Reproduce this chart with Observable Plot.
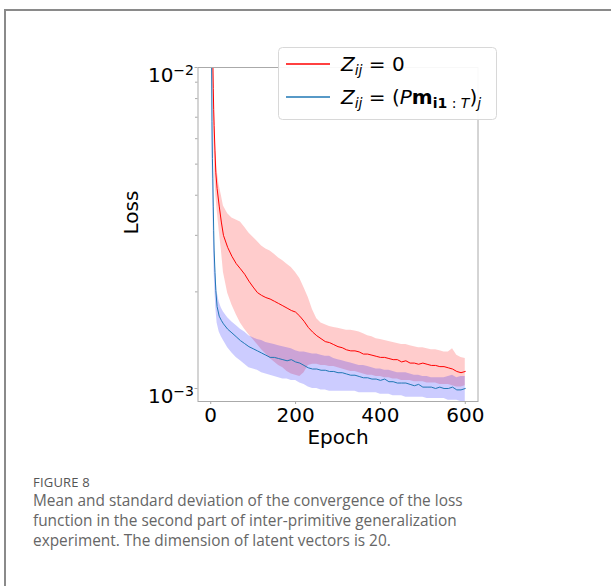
<!DOCTYPE html>
<html>
<head>
<meta charset="utf-8">
<script src="https://cdn.jsdelivr.net/npm/d3@7"></script>
<script src="https://cdn.jsdelivr.net/npm/@observablehq/plot@0.6"></script>
<style>
  html, body { margin: 0; padding: 0; background: #fff; }
  #page { position: relative; width: 611px; height: 586px; overflow: hidden; background: #fff; }
  #card { position: absolute; left: 4px; top: 9px; width: 700px; height: 700px; border-left: 2px solid #8a8a8a; border-top: 2px solid #8a8a8a; }
  #chart { position: absolute; left: 0; top: 0; }
  #fig { position: absolute; left: 33px; top: 474px; font-family: "Open Sans", sans-serif; font-size: 13px; letter-spacing: 0.2px; line-height: 16px; color: #555; }
  #cap { position: absolute; left: 33px; top: 491px; width: 452px; font-family: "Open Sans", sans-serif; font-size: 15.4px; line-height: 20px; color: #666; }
</style>
</head>
<body>
<div id="page">
  <div id="card"></div>
  <div id="chart"></div>
  <div id="fig">FIGURE 8</div>
  <div id="cap">Mean and standard deviation of the convergence of the loss function in the second part of inter-primitive generalization experiment. The dimension of latent vectors is 20.</div>
</div>
<script>
const epochs = [0,2,3,4,5,6,7,8,10,12,15,20,25,30,40,50,60,70,80,90,100,110,120,130,140,150,160,170,180,190,200,210,220,230,240,250,260,270,280,290,300,310,320,330,340,350,360,370,380,390,400,410,420,430,440,450,460,470,480,490,500,510,520,530,540,550,560,570,580,590,600];

const redMean = [0.08,0.04,0.025,0.015,0.0105,0.0086,0.0074,0.0066,0.0055,0.0047,0.0042,0.0037,0.0033,0.0030,0.00275,0.00258,0.00245,0.00236,0.00227,0.00216,0.00207,0.00199,0.00195,0.00192,0.00190,0.00187,0.00184,0.00181,0.00178,0.00175,0.00173,0.00168,0.00162,0.00155,0.00150,0.00146,0.00143,0.00140,0.00139,0.00137,0.00135,0.00134,0.00132,0.00131,0.00131,0.00130,0.00128,0.00128,0.00127,0.00126,0.00125,0.00125,0.00124,0.00123,0.00123,0.00121,0.00122,0.00120,0.00120,0.00119,0.00120,0.00119,0.00118,0.00118,0.00117,0.00117,0.00116,0.00115,0.00113,0.00112,0.00113];

const redUpper = [0.1,0.05,0.03,0.018,0.013,0.0105,0.0090,0.0080,0.0066,0.0055,0.0048,0.0043,0.0040,0.0037,0.0035,0.0034,0.00335,0.00330,0.00318,0.00305,0.00296,0.00287,0.00278,0.00272,0.00268,0.00262,0.00255,0.00250,0.00244,0.00238,0.00230,0.00220,0.00206,0.00192,0.00176,0.00165,0.00160,0.00158,0.00156,0.00155,0.00154,0.00153,0.00152,0.00152,0.00151,0.00150,0.00148,0.00146,0.00145,0.00143,0.00142,0.00141,0.00140,0.00139,0.00138,0.00137,0.00137,0.00136,0.00135,0.00134,0.00134,0.00133,0.00132,0.00132,0.00131,0.00130,0.00130,0.00133,0.00127,0.00125,0.00124];

const redLower = [0.06,0.03,0.02,0.012,0.0085,0.0070,0.0060,0.0054,0.0045,0.0040,0.0036,0.0031,0.0027,0.0023,0.00198,0.00182,0.00170,0.00160,0.00153,0.00147,0.00142,0.00137,0.00132,0.00128,0.00124,0.00121,0.00118,0.00116,0.00113,0.00111,0.00110,0.00109,0.00112,0.00118,0.00119,0.00119,0.00118,0.00118,0.00117,0.00117,0.00116,0.00115,0.00114,0.00113,0.00113,0.00112,0.00111,0.00110,0.00110,0.00109,0.00109,0.00108,0.00108,0.00107,0.00107,0.00106,0.00106,0.00106,0.00105,0.00105,0.00105,0.00104,0.00104,0.00104,0.00103,0.00103,0.00103,0.00102,0.00101,0.00101,0.00102];

const blueMean = [0.05,0.0105,0.0068,0.0052,0.0045,0.0037,0.0031,0.0027,0.0023,0.00202,0.00180,0.00168,0.00163,0.00159,0.00153,0.00149,0.00145,0.00141,0.00138,0.00135,0.00133,0.00131,0.00129,0.00127,0.00125,0.00125,0.00124,0.00123,0.00122,0.00123,0.00121,0.00120,0.00118,0.00116,0.00115,0.00115,0.00114,0.00114,0.00113,0.00113,0.00112,0.00112,0.00111,0.00110,0.00110,0.00109,0.00108,0.00108,0.00107,0.00107,0.00106,0.00107,0.00105,0.00105,0.00104,0.00104,0.00104,0.00103,0.00102,0.00103,0.00101,0.00101,0.00101,0.00100,0.00101,0.00100,0.00100,0.00101,0.00099,0.00099,0.00100];

const blueUpper = [0.06,0.013,0.0085,0.0062,0.0053,0.0043,0.0036,0.0031,0.0026,0.00228,0.00200,0.00186,0.00178,0.00173,0.00166,0.00161,0.00157,0.00153,0.00150,0.00146,0.00144,0.00142,0.00141,0.00139,0.00138,0.00137,0.00136,0.00135,0.00134,0.00133,0.00131,0.00130,0.00130,0.00129,0.00128,0.00128,0.00127,0.00126,0.00126,0.00124,0.00123,0.00122,0.00121,0.00120,0.00119,0.00118,0.00118,0.00117,0.00116,0.00115,0.00115,0.00114,0.00114,0.00113,0.00112,0.00112,0.00112,0.00111,0.00110,0.00110,0.00109,0.00109,0.00108,0.00108,0.00108,0.00108,0.00109,0.00110,0.00108,0.00109,0.00109];

const blueLower = [0.04,0.008,0.0055,0.0043,0.0038,0.0031,0.0026,0.0023,0.0020,0.00178,0.00160,0.00150,0.00145,0.00141,0.00134,0.00129,0.00125,0.00122,0.00119,0.00116,0.00115,0.00114,0.00112,0.00111,0.00110,0.00109,0.00108,0.00107,0.00107,0.00106,0.00106,0.00104,0.00103,0.00101,0.00100,0.00100,0.00099,0.00099,0.00098,0.00098,0.00098,0.00098,0.00098,0.00098,0.00098,0.00097,0.00097,0.00097,0.00097,0.00097,0.00096,0.00096,0.00096,0.00095,0.00095,0.00095,0.00094,0.00094,0.00094,0.00094,0.00094,0.00093,0.00093,0.00093,0.00093,0.00093,0.00092,0.00092,0.00092,0.00091,0.00091];

const xTicks = [0, 200, 400, 600];
const xTickLabels = ["0", "200", "400", "600"];
const yMajor = [0.001, 0.01];
const yMajorLabels = ["10^-3", "10^-2"];
const yMinor = [0.002,0.003,0.004,0.005,0.006,0.007,0.008,0.009];
const seriesColors = ["red", "#1f77b4"];
const bandColors = ["red", "blue"];

const data = epochs.map((e, i) => ({
  epoch: e,
  rm: redMean[i], ru: redUpper[i], rl: redLower[i],
  bm: blueMean[i], bu: blueUpper[i], bl: blueLower[i]
}));

const chart = Plot.plot({
  width: 611,
  height: 460,
  marginLeft: 197.5,
  marginRight: 133.5,
  marginTop: 67,
  marginBottom: 59,
  style: { fontFamily: "DejaVu Sans", fontSize: "20px", color: "black", background: "transparent", overflow: "visible" },
  x: { domain: [-30, 630] },
  y: { type: "log", domain: [0.000911, 0.01] },
  marks: [
    Plot.areaY(data, { x: "epoch", y1: "rl", y2: "ru", fill: bandColors[0], fillOpacity: 0.2, clip: true }),
    Plot.lineY(data, { x: "epoch", y: "rm", stroke: seriesColors[0], strokeWidth: 1, clip: true }),
    Plot.areaY(data, { x: "epoch", y1: "bl", y2: "bu", fill: bandColors[1], fillOpacity: 0.2, clip: true }),
    Plot.lineY(data, { x: "epoch", y: "bm", stroke: seriesColors[1], strokeWidth: 1, clip: true }),
    Plot.frame({ stroke: "#aaa", strokeWidth: 1 }),
    Plot.axisX({ ticks: xTicks, tickFormat: d => xTickLabels[xTicks.indexOf(d)], tickSize: 3, tickPadding: 3, stroke: "#aaa", fontSize: 20, label: null }),
    Plot.axisY({ ticks: yMinor, tickSize: 2.5, tickFormat: () => "", stroke: "#aaa", label: null }),
    Plot.axisY({ ticks: yMajor, tickSize: 3, tickPadding: 1, tickFormat: d => yMajorLabels[yMajor.indexOf(d)], stroke: "#aaa", fontSize: 20, label: null }),
    Plot.text(["Epoch"], { frameAnchor: "bottom", lineAnchor: "middle", dy: 36, text: d => d, fontSize: 20 }),
    Plot.text(["Loss"], { frameAnchor: "left", lineAnchor: "middle", rotate: -90, dx: -66.5, text: d => d, fontSize: 20 })
  ]
});

document.getElementById("chart").appendChild(chart);

// superscript exponents on log tick labels
const svg = d3.select(chart);
svg.selectAll("text").each(function() {
  const t = this.textContent;
  const m = /^10\^(-\d)$/.exec(t);
  if (m) {
    const el = d3.select(this);
    el.text("10");
    el.attr("dy", "0.42em");
    el.append("tspan").attr("dy", "-0.5em").attr("font-size", "14px").text(m[1].replace("-", "\u2212"));
  }
});

// legend (matplotlib style, upper right)
const lg = svg.append("g").attr("font-family", "DejaVu Sans").attr("font-size", 20).attr("fill", "black").attr("text-anchor", "start");
lg.append("rect").attr("x", 278.5).attr("y", 47.5).attr("width", 218).attr("height", 72).attr("rx", 4)
  .attr("fill", "white").attr("fill-opacity", 0.92).attr("stroke", "#d8d8d8");
const rows = [{ y: 64, c: seriesColors[0] }, { y: 97, c: seriesColors[1] }];
rows.forEach(r => lg.append("line").attr("x1", 286).attr("x2", 330).attr("y1", r.y).attr("y2", r.y).attr("stroke", r.c).attr("stroke-width", 1.3));

function mathRow(y, parts) {
  const t = lg.append("text").attr("x", 341).attr("y", y).attr("text-anchor", "start");
  let level = 0;
  parts.forEach(p => {
    const target = p.sub ? 4 : 0;
    const sp = t.append("tspan").attr("dy", target - level).text(p.s);
    level = target;
    if (p.sub) sp.attr("font-size", 14);
    if (p.i) sp.attr("font-style", "italic");
    if (p.b) sp.attr("font-weight", "bold");
  });
}
mathRow(71, [
  { s: "Z", i: true }, { s: "ij", i: true, sub: true }, { s: " = 0" }
]);
mathRow(104, [
  { s: "Z", i: true }, { s: "ij", i: true, sub: true }, { s: " = (" }, { s: "P", i: true },
  { s: "m", b: true }, { s: "i1", b: true, sub: true }, { s: " : ", sub: true }, { s: "T", i: true, sub: true },
  { s: ")" }, { s: "j", i: true, sub: true }
]);
</script>
</body>
</html>
